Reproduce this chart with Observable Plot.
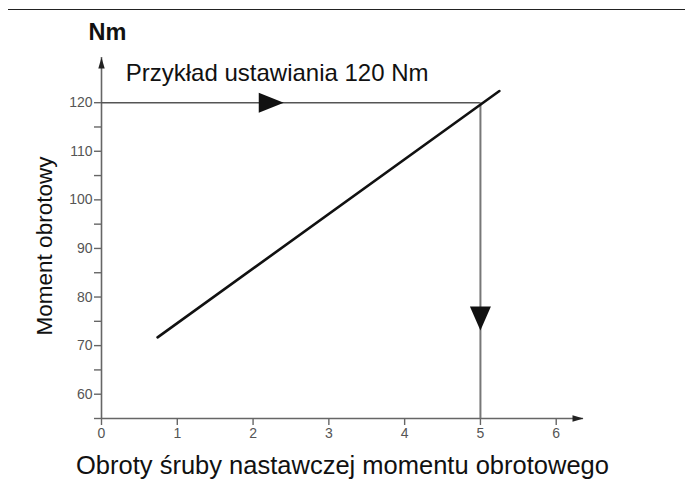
<!DOCTYPE html>
<html>
<head>
<meta charset="utf-8">
<script src="https://cdn.jsdelivr.net/npm/d3@7"></script>
<script src="https://cdn.jsdelivr.net/npm/@observablehq/plot@0.6"></script>
<style>
  html, body { margin: 0; padding: 0; background: #fff; }
  #wrap { position: relative; width: 685px; height: 488px; overflow: hidden; }
  #rule { position: absolute; top: 9px; left: 8px; right: 0; border-top: 1.5px solid #222; }
  svg { font-family: "Liberation Sans", Arial, sans-serif; }
</style>
</head>
<body>
<div id="wrap"><div id="rule"></div></div>
<script>
// ---- data ----
const xTicks = [0, 1, 2, 3, 4, 5, 6];
const yTicks = [60, 70, 80, 90, 100, 110, 120];
const yMinorTicks = [55, 65, 75, 85, 95, 105, 115];
const turns = [0.74, 5.25];          // screw turns
const torque = [71.7, 122.4];        // Nm
const targetTorque = 120;
const targetTurns = 5;
const xMax = 6.36;
const yMin = 55;
const yMax = 129.3;
const titleText = "Przykład ustawiania 120 Nm";
const unitText = "Nm";
const yLabel = "Moment obrotowy";
const xLabel = "Obroty śruby nastawczej momentu obrotowego";

const lineData = turns.map((t, i) => ({turns: t, torque: torque[i]}));

// custom filled triangle symbols
const triRight = {draw(ctx) { ctx.moveTo(12.5, 0); ctx.lineTo(-12.5, -10); ctx.lineTo(-12.5, 10); ctx.closePath(); }};
const triDown  = {draw(ctx) { ctx.moveTo(0, 12); ctx.lineTo(-10.5, -12); ctx.lineTo(10.5, -12); ctx.closePath(); }};
const axisUp    = {draw(ctx) { ctx.moveTo(0, 0); ctx.lineTo(-3.2, 11); ctx.lineTo(3.2, 11); ctx.closePath(); }};
const axisRight = {draw(ctx) { ctx.moveTo(0, 0); ctx.lineTo(-11, -3.2); ctx.lineTo(-11, 3.2); ctx.closePath(); }};

const axisColor = "#666";

const chart = Plot.plot({
  width: 685,
  height: 488,
  marginLeft: 101,
  marginRight: 102,
  marginTop: 57,
  marginBottom: 70,
  style: {fontFamily: "'Liberation Sans', Arial, sans-serif", background: "transparent", overflow: "visible"},
  x: {domain: [0, xMax]},
  y: {domain: [yMin, yMax]},
  marks: [
    // axis lines
    Plot.ruleY([yMin], {x1: 0, x2: xMax, stroke: axisColor, strokeWidth: 1.6}),
    Plot.ruleX([0], {y1: yMin, y2: yMax, stroke: axisColor, strokeWidth: 1.6}),
    Plot.dot([{x: 0, y: yMax}], {x: "x", y: "y", symbol: axisUp, fill: "#222", stroke: null}),
    Plot.dot([{x: xMax, y: yMin}], {x: "x", y: "y", symbol: axisRight, fill: "#222", stroke: null}),
    // ticks
    Plot.axisY(yTicks, {tickSize: 7, tickPadding: 2, fontSize: 14, color: "#555", stroke: axisColor, strokeWidth: 1.4, label: null}),
    Plot.axisY(yMinorTicks, {tickSize: 7, tickFormat: () => "", stroke: axisColor, strokeWidth: 1.4, label: null}),
    Plot.axisX(xTicks, {tickSize: 7, tickPadding: 3, fontSize: 14, color: "#555", stroke: axisColor, strokeWidth: 1.4, label: null}),
    // guide lines
    Plot.ruleY([targetTorque], {x1: 0, x2: targetTurns, stroke: "#555", strokeWidth: 1.6}),
    Plot.ruleX([targetTurns], {y1: yMin, y2: targetTorque, stroke: "#777", strokeWidth: 2}),
    // torque line
    Plot.line(lineData, {x: "turns", y: "torque", stroke: "#111", strokeWidth: 2.6}),
    // arrow heads
    Plot.dot([{x: 2.24, y: targetTorque}], {x: "x", y: "y", symbol: triRight, fill: "#111", stroke: null}),
    Plot.dot([{x: targetTurns, y: 75.6}], {x: "x", y: "y", symbol: triDown, fill: "#111", stroke: null}),
    // texts
    Plot.text([titleText], {x: 0.32, y: 126.05, text: d => d, textAnchor: "start", lineAnchor: "middle", fontSize: 24, fill: "#111"}),
    Plot.text([unitText], {frameAnchor: "top-left", dx: -13, dy: -25, text: d => d, textAnchor: "start", lineAnchor: "middle", fontSize: 23.5, fontWeight: "bold", fill: "#111"}),
    Plot.text([yLabel], {frameAnchor: "left", dx: -57, dy: 8, rotate: -90, text: d => d, textAnchor: "middle", lineAnchor: "middle", fontSize: 22.5, fill: "#111"}),
    Plot.text([xLabel], {frameAnchor: "bottom", dy: 47, text: d => d, textAnchor: "middle", lineAnchor: "middle", fontSize: 25.5, fill: "#111"})
  ]
});
document.getElementById("wrap").appendChild(chart);
chart.style.position = "absolute";
chart.style.left = "0";
chart.style.top = "0";
</script>
</body>
</html>
